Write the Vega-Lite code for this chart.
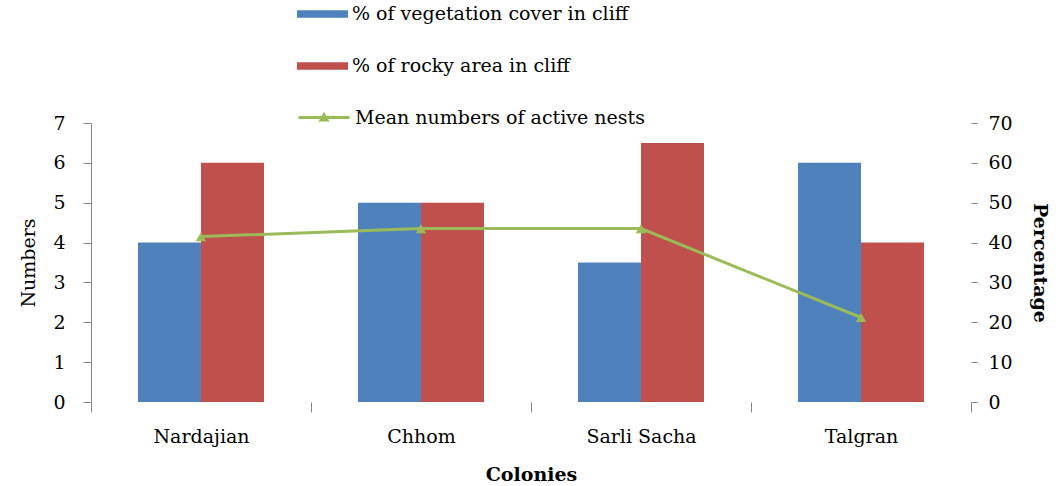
{
  "$schema": "https://vega.github.io/schema/vega-lite/v6.json",
  "width": 880,
  "height": 279,
  "autosize": {"type": "none"},
  "padding": {"left": 91, "top": 123, "right": 89, "bottom": 84},
  "background": "white",
  "config": {
    "view": {"stroke": null},
    "font": "DejaVu Serif",
    "axis": {
      "grid": false,
      "labelColor": "#000000",
      "titleColor": "#000000",
      "labelFont": "DejaVu Serif",
      "titleFont": "DejaVu Serif",
      "labelFontSize": 19,
      "titleFontSize": 19,
      "tickColor": "#868686",
      "domainColor": "#868686"
    },
    "legend": {
      "labelFont": "DejaVu Serif",
      "labelFontSize": 19,
      "labelColor": "#000000",
      "padding": 0,
      "rowPadding": 0,
      "labelLimit": 500
    }
  },
  "datasets": {
    "bars": [
      {"colony": "Nardajian", "series": "% of vegetation cover in cliff", "pct": 40},
      {"colony": "Nardajian", "series": "% of rocky area in cliff", "pct": 60},
      {"colony": "Chhom", "series": "% of vegetation cover in cliff", "pct": 50},
      {"colony": "Chhom", "series": "% of rocky area in cliff", "pct": 50},
      {"colony": "Sarli Sacha", "series": "% of vegetation cover in cliff", "pct": 35},
      {"colony": "Sarli Sacha", "series": "% of rocky area in cliff", "pct": 65},
      {"colony": "Talgran", "series": "% of vegetation cover in cliff", "pct": 60},
      {"colony": "Talgran", "series": "% of rocky area in cliff", "pct": 40}
    ],
    "nests": [
      {"colony": "Nardajian", "nests": 4.15},
      {"colony": "Chhom", "nests": 4.35},
      {"colony": "Sarli Sacha", "nests": 4.35},
      {"colony": "Talgran", "nests": 2.12}
    ]
  },
  "layer": [
    {
      "data": {"name": "bars"},
      "mark": {"type": "bar"},
      "encoding": {
        "x": {
          "field": "colony",
          "type": "nominal",
          "sort": ["Nardajian", "Chhom", "Sarli Sacha", "Talgran"],
          "scale": {"paddingInner": 0, "paddingOuter": 0},
          "axis": {
            "domain": false,
            "tickBand": "extent",
            "tickSize": 10,
            "labelPadding": 15,
            "labelAngle": 0,
            "title": "Colonies",
            "titleFontWeight": "bold",
            "titlePadding": 19
          }
        },
        "xOffset": {
          "field": "series",
          "sort": ["% of vegetation cover in cliff", "% of rocky area in cliff"],
          "scale": {"paddingInner": 0, "paddingOuter": 0.746}
        },
        "y": {
          "field": "pct",
          "type": "quantitative",
          "scale": {"domain": [0, 70]},
          "axis": {
            "orient": "right",
            "domain": false,
            "values": [0, 10, 20, 30, 40, 50, 60, 70],
            "tickSize": 6,
            "labelPadding": 11,
            "title": "Percentage",
            "titleFontWeight": "bold",
            "titlePadding": 17
          }
        },
        "color": {
          "field": "series",
          "type": "nominal",
          "scale": {
            "domain": ["% of vegetation cover in cliff", "% of rocky area in cliff"],
            "range": ["#4F81BD", "#C0504D"]
          },
          "legend": {
            "orient": "none",
            "legendX": 206,
            "legendY": -134.5,
            "title": null,
            "direction": "vertical",
            "symbolType": "M-1,-0.15L1,-0.15L1,0.15L-1,0.15Z",
            "symbolSize": 2601,
            "symbolStrokeWidth": 0,
            "rowPadding": 16,
            "labelOffset": 4
          }
        }
      }
    },
    {
      "data": {"name": "nests"},
      "mark": {
        "type": "line",
        "strokeWidth": 3,
        "point": {"filled": true, "shape": "triangle-up", "size": 110, "color": "#9BBB59"}
      },
      "encoding": {
        "x": {
          "field": "colony",
          "type": "nominal",
          "sort": ["Nardajian", "Chhom", "Sarli Sacha", "Talgran"]
        },
        "y": {
          "field": "nests",
          "type": "quantitative",
          "scale": {"domain": [0, 7]},
          "axis": {
            "orient": "left",
            "values": [0, 1, 2, 3, 4, 5, 6, 7],
            "tickSize": 8,
            "labelPadding": 18,
            "title": "Numbers",
            "titleFontWeight": "normal",
            "titlePadding": 14
          }
        },
        "color": {
          "datum": "Mean numbers of active nests",
          "scale": {"range": ["#9BBB59"]},
          "legend": {
            "orient": "none",
            "legendX": 206,
            "legendY": -32.5,
            "title": null,
            "symbolType": "M-1,0L1,0M-0.12,0.1L0,-0.11L0.12,0.1Z",
            "symbolSize": 2601,
            "symbolStrokeWidth": 3,
            "symbolFillColor": "#9BBB59",
            "symbolStrokeColor": "#9BBB59",
            "labelOffset": 4
          }
        }
      }
    }
  ],
  "resolve": {"scale": {"y": "independent", "color": "independent"}}
}
